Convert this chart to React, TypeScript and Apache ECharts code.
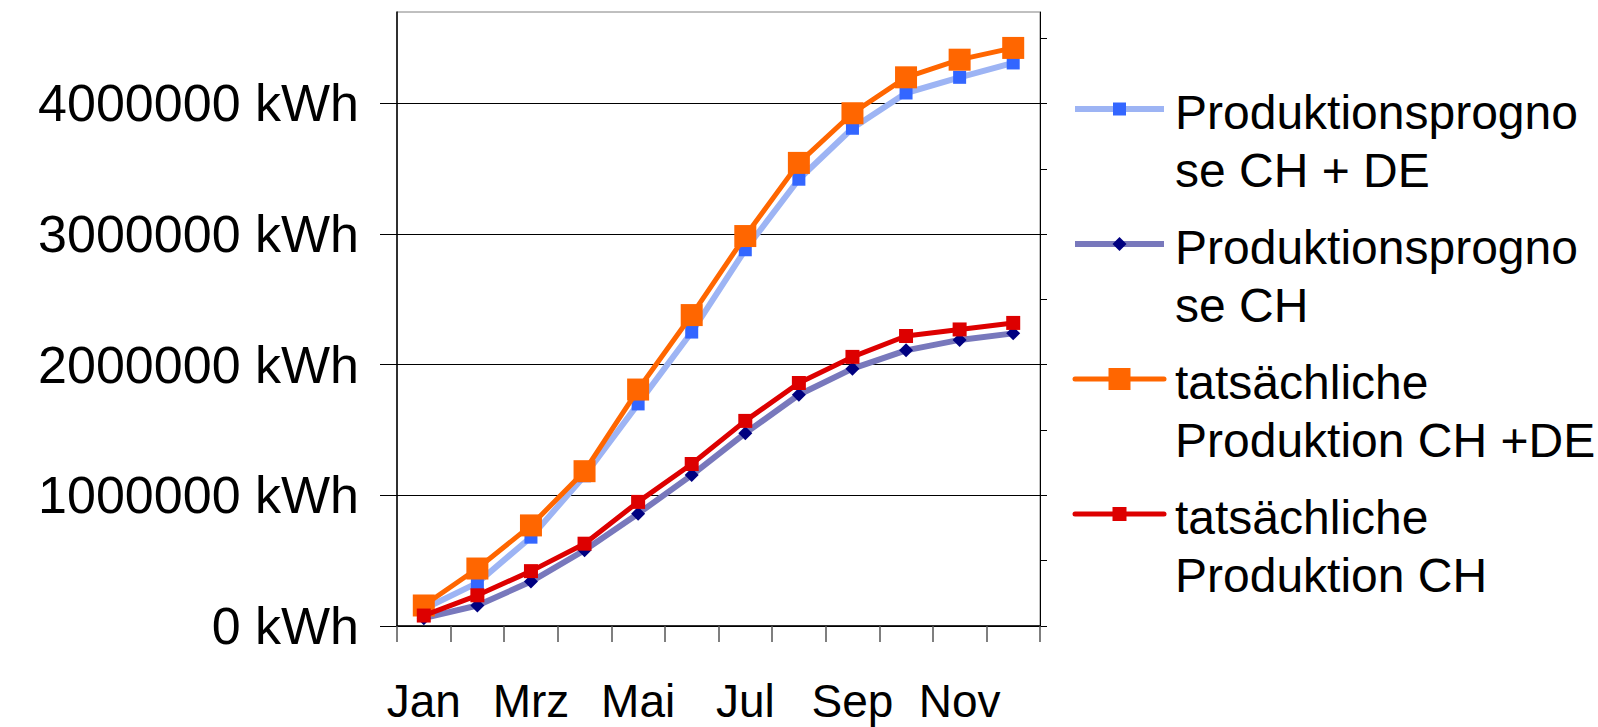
import React, { useEffect, useRef } from "react";
import * as echarts from "echarts";

const months = ["Jan", "Feb", "Mrz", "Apr", "Mai", "Jun", "Jul", "Aug", "Sep", "Okt", "Nov", "Dez"];
const seriesNames = [
  "Produktionsprognose CH + DE",
  "Produktionsprognose CH",
  "tatsächliche Produktion CH +DE",
  "tatsächliche Produktion CH",
];
const legendLabels = [
  "Produktionsprogno\nse CH + DE",
  "Produktionsprogno\nse CH",
  "tatsächliche\nProduktion CH +DE",
  "tatsächliche\nProduktion CH",
];
const prognoseCHDE = [130000, 330000, 680000, 1150000, 1700000, 2250000, 2880000, 3420000, 3810000, 4080000, 4200000, 4310000];
const prognoseCH = [60000, 157000, 340000, 580000, 860000, 1155000, 1476000, 1770000, 1970000, 2110000, 2190000, 2240000];
const istCHDE = [157000, 440000, 770000, 1185000, 1810000, 2380000, 2985000, 3545000, 3925000, 4200000, 4335000, 4425000];
const istCH = [80000, 235000, 420000, 630000, 950000, 1240000, 1570000, 1860000, 2060000, 2220000, 2270000, 2320000];
const yMin = 0;
const yMax = 4700000;
const yMajor = 1000000;
const yMinor = 500000;
const majorTicks = [0, 1000000, 2000000, 3000000, 4000000];
const minorTicks = [0, 500000, 1000000, 1500000, 2000000, 2500000, 3000000, 3500000, 4000000, 4500000];

const FONT = "'Liberation Sans', Arial, sans-serif";

const styles = [
  { line: "#9db4f4", marker: "#3366ff", symbol: "rect", size: 13, width: 6 },
  { line: "#7878bc", marker: "#000080", symbol: "diamond", size: 14, width: 6 },
  { line: "#ff6600", marker: "#ff6600", symbol: "rect", size: 22, width: 5 },
  { line: "#dd0000", marker: "#dd0000", symbol: "rect", size: 14, width: 5 },
];
const dataSets = [prognoseCHDE, prognoseCH, istCHDE, istCH];

export default function App() {
  const ref = useRef<HTMLDivElement>(null);
  useEffect(() => {
    if (!ref.current) return;
    const chart = echarts.init(ref.current, null, { renderer: "svg" });

    const legendGraphics: any[] = [];
    styles.forEach((s, i) => {
      const cy = 109 + i * 135;
      legendGraphics.push({
        type: "line",
        shape: { x1: 1075, y1: cy, x2: 1164, y2: cy },
        style: { stroke: s.line, lineWidth: s.width, lineCap: i >= 2 ? "round" : "butt" },
      });
      if (s.symbol === "rect") {
        legendGraphics.push({
          type: "rect",
          shape: { x: 1119.5 - s.size / 2, y: cy - s.size / 2, width: s.size, height: s.size },
          style: { fill: s.marker },
        });
      } else {
        const h = s.size / 2;
        legendGraphics.push({
          type: "polygon",
          shape: { points: [[1119.5, cy - h], [1119.5 + h, cy], [1119.5, cy + h], [1119.5 - h, cy]] },
          style: { fill: s.marker },
        });
      }
      legendGraphics.push({
        type: "text",
        x: 1175,
        y: 112 + i * 135 - 29,
        style: {
          text: legendLabels[i],
          font: `48px ${FONT}`,
          fill: "#000",
          lineHeight: 58,
          verticalAlign: "top",
        },
      });
    });

    chart.setOption({
      animation: false,
      backgroundColor: "#fff",
      grid: {
        left: 397,
        right: 558,
        top: 12,
        bottom: 101,
        show: true,
        borderColor: "#808080",
        borderWidth: 1,
      },
      xAxis: {
        type: "category",
        data: months,
        boundaryGap: true,
        axisLine: { show: true, lineStyle: { color: "#000", width: 1.5 } },
        axisTick: { show: true, interval: 0, length: 16, lineStyle: { color: "#555", width: 1.5 } },
        axisLabel: { interval: 1, fontSize: 46, lineHeight: 46, color: "#000", fontFamily: FONT, margin: 52 },
        splitLine: { show: false },
      },
      yAxis: [
        {
          type: "value",
          min: yMin,
          max: yMax,
          interval: yMajor,
          axisLine: { show: true, lineStyle: { color: "#000", width: 1.5 } },
          axisTick: { show: true, length: 17, customValues: majorTicks, lineStyle: { color: "#000", width: 1 } },
          axisLabel: {
            fontSize: 52,
            color: "#000",
            fontFamily: FONT,
            margin: 38,
            formatter: (v: number) => (v % yMajor === 0 ? `${v} kWh` : ""),
          },
          splitLine: { show: true, lineStyle: { color: "#000", width: 1 } },
        },
        {
          type: "value",
          position: "right",
          min: yMin,
          max: yMax,
          interval: yMinor,
          axisLine: { show: true, lineStyle: { color: "#000", width: 1 } },
          axisTick: { show: true, length: 7, customValues: minorTicks, lineStyle: { color: "#000", width: 1 } },
          axisLabel: { show: false },
          splitLine: { show: false },
        },
      ],
      series: styles.map((s, i) => ({
        name: seriesNames[i],
        type: "line",
        data: dataSets[i],
        yAxisIndex: 0,
        symbol: s.symbol,
        symbolSize: s.size,
        showAllSymbol: true,
        lineStyle: { color: s.line, width: s.width },
        itemStyle: { color: s.marker, borderWidth: 0 },
        emphasis: { disabled: true },
        z: 2 + i,
      })),
      graphic: legendGraphics,
    });
    return () => chart.dispose();
  }, []);
  return (
    <div
      ref={ref}
      style={{ position: "fixed", left: 0, top: 0, width: 1598, height: 727, background: "#fff" }}
    />
  );
}
